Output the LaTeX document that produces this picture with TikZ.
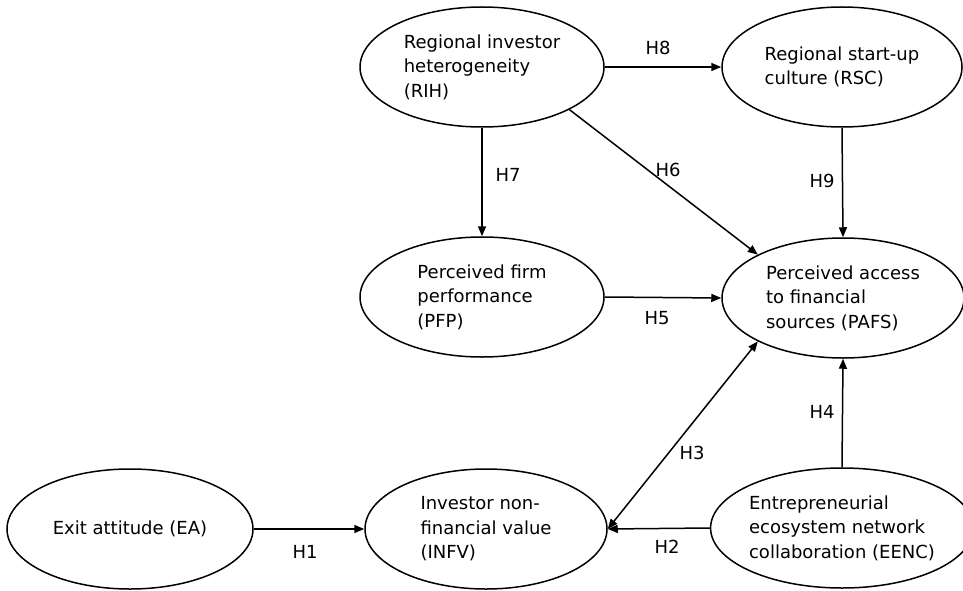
\documentclass[tikz,border=0pt]{standalone}
\usepackage{fontspec}
\setmainfont{DejaVu Sans}
\usetikzlibrary{arrows.meta,shapes.geometric}
\begin{document}
\begin{tikzpicture}[x=1pt,y=-1pt,
  construct/.style={draw=black,line width=1.5pt,ellipse,inner sep=0pt,align=left,
    font=\fontsize{18}{24.5}\selectfont,text=black},
  link/.style={draw=black,line width=1.5pt,-{Triangle[length=10pt,width=8pt]}},
  hlabel/.style={font=\fontsize{18}{20}\selectfont,text=black,inner sep=0pt}]
\useasboundingbox (0,0) rectangle (963,591);
\node[construct,minimum width=244pt,minimum height=120pt] (rih) at (482,67) {Regional investor\\heterogeneity\\(RIH)};
\node[construct,minimum width=240pt,minimum height=120pt] (rsc) at (842,67) {Regional start-up\\culture (RSC)};
\node[construct,minimum width=244pt,minimum height=120pt] (pfp) at (482,297) {Perceived firm\\performance\\(PFP)};
\node[construct,minimum width=242pt,minimum height=120pt] (pafs) at (843,298) {Perceived access\\to financial\\sources (PAFS)};
\node[construct,minimum width=246pt,minimum height=120pt] (ea) at (130,529) {Exit attitude (EA)};
\node[construct,minimum width=242pt,minimum height=120pt] (infv) at (486,529) {Investor non-\\financial value\\(INFV)};
\node[construct,minimum width=240pt,minimum height=120pt] (eenc) at (842,528) {Entrepreneurial\\ecosystem network\\collaboration (EENC)};

\draw[link] (rih.east) -- (rsc.west);
\draw[link] (rih.south) -- (pfp.north);
\draw[link] (rih.-26) -- (pafs.153);
\draw[link] (rsc.south) -- (pafs.north);
\draw[link] (pfp.east) -- (pafs.west);
\draw[link,{Triangle[length=10pt,width=8pt]}-{Triangle[length=10pt,width=8pt]}] (infv.east) -- (pafs.207);
\draw[link] (eenc.north) -- (pafs.south);
\draw[link] (ea.east) -- (infv.west);
\draw[link] (eenc.west) -- (infv.east);

\node[hlabel] (h8) at (658,48) {H8};
\node[hlabel] (h7) at (508,175) {H7};
\node[hlabel] (h6) at (668,170) {H6};
\node[hlabel] (h9) at (822,181) {H9};
\node[hlabel] (h5) at (657,318) {H5};
\node[hlabel] (h4) at (822,412) {H4};
\node[hlabel] (h3) at (692,453) {H3};
\node[hlabel] (h1) at (305,552) {H1};
\node[hlabel] (h2) at (667,547) {H2};
\end{tikzpicture}
\end{document}
